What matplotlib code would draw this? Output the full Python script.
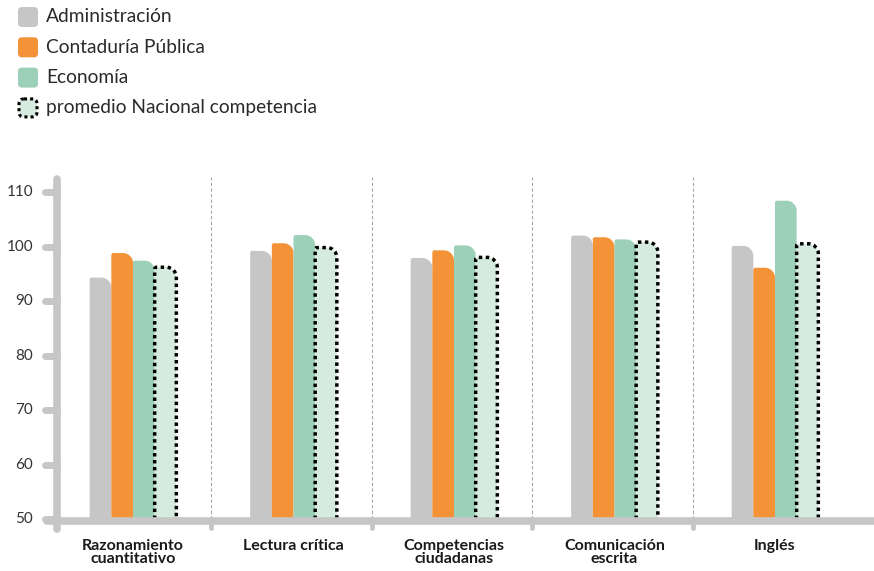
import numpy as np
import matplotlib
matplotlib.use("Agg")
import matplotlib.pyplot as plt
from matplotlib.path import Path
from matplotlib.patches import PathPatch, FancyBboxPatch

plt.rcParams['font.family'] = ['Lato', 'DejaVu Sans']

categories = ["Razonamiento\ncuantitativo", "Lectura crítica", "Competencias\nciudadanas",
              "Comunicación\nescrita", "Inglés"]
series = ["Administración", "Contaduría Pública", "Economía", "promedio Nacional competencia"]
admin = [94.3, 99.2, 97.9, 102.0, 100.1]
contaduria = [98.8, 100.6, 99.3, 101.7, 96.1]
economia = [97.4, 102.1, 100.2, 101.3, 108.4]
promedio = [96.2, 99.8, 98.0, 100.8, 100.5]
yticks = [50, 60, 70, 80, 90, 100, 110]

colors = ["#c6c6c6", "#f39237", "#9dd0b8", "#d5ebdf"]
axis_col = "#c6c6c6"
values = [admin, contaduria, economia, promedio]

W, H = 874, 571
fig = plt.figure(figsize=(W / 100, H / 100), dpi=100)

# pixel layout
px_unit = 160.5      # px per group
py_unit = 5.45       # px per score point
x_left = -76 / px_unit
y_bot = 50 - 14 / py_unit
y_top = 50 + 344 / py_unit
ax = fig.add_axes([57 / W, 38 / H, 817 / W, (533 - 175) / H])
ax.set_xlim(x_left, x_left + 817 / px_unit)
ax.set_ylim(y_bot, y_top)
ax.axis('off')

def px(n):
    return n / px_unit

def py(n):
    return n / py_unit

# separators
for s in np.arange(len(categories) - 1) + 0.5 - px(2):
    ax.plot([s, s], [50, 50 + py(342)], color="#a8a8a8", lw=0.8, ls=(0, (3, 2)), zorder=1)
    ax.plot([s, s], [50, 50 - py(9)], color=axis_col, lw=3.5, solid_capstyle='round',
            clip_on=False, zorder=2)

# axes lines
ax.plot([x_left, x_left], [y_bot + py(4), y_top - py(4)], color=axis_col, lw=5.5,
        solid_capstyle='round', clip_on=False, zorder=5)
ax.plot([x_left - px(10), x_left + px(900)], [50 - py(2), 50 - py(2)], color=axis_col, lw=5.5,
        solid_capstyle='round', clip_on=False, zorder=5)
for t in yticks:
    ax.plot([x_left - px(12), x_left], [t, t], color=axis_col, lw=5,
            solid_capstyle='round', clip_on=False, zorder=5)
    ax.text(x_left - px(24), t, str(t), ha='right', va='center', fontsize=11,
            color="#333333")

# bars with rounded top-right corner
bw = 0.135
x = np.arange(len(categories))
k = 0.5523
for j, (vals, col) in enumerate(zip(values, colors)):
    bars = ax.bar(x + (j - 1.5) * bw, np.array(vals) - 50, bw, bottom=50, alpha=0)
    for r in bars:
        x0, y0, w, h = r.get_x(), r.get_y(), r.get_width(), r.get_height()
        top = y0 + h
        rx, ry = px(10), py(10)
        sx, sy = px(2), py(2)
        verts = [(x0, y0), (x0, top - sy),
                 (x0, top - sy + k * sy), (x0 + sx - k * sx, top), (x0 + sx, top),
                 (x0 + w - rx, top),
                 (x0 + w - rx + k * rx, top), (x0 + w, top - ry + k * ry), (x0 + w, top - ry),
                 (x0 + w, y0)]
        codes = [Path.MOVETO, Path.LINETO, Path.CURVE4, Path.CURVE4, Path.CURVE4,
                 Path.LINETO, Path.CURVE4, Path.CURVE4, Path.CURVE4, Path.LINETO]
        ax.add_patch(PathPatch(Path(verts + [(x0, y0)], codes + [Path.CLOSEPOLY]),
                               facecolor=col, edgecolor='none', zorder=3))
        if j == 3:
            ax.add_patch(PathPatch(Path(verts, codes), fill=False, edgecolor='black',
                                   lw=2.5, ls=(0, (1, 1)), zorder=4))

for i, c in enumerate(categories):
    ax.text(i, 50 - py(20), c, ha='center', va='top', fontsize=11.5, fontweight='bold',
            color="#1a1a1a", linespacing=0.95, clip_on=False)

# legend drawn in pixel space
lax = fig.add_axes([0, 0, 1, 1])
lax.set_xlim(0, W)
lax.set_ylim(H, 0)
lax.axis('off')
for n, (name, col) in enumerate(zip(series, colors)):
    y0 = 7 + n * 30.3
    if n == 3:
        lax.add_patch(FancyBboxPatch((19, y0 + 1), 18, 18, boxstyle="round,pad=0,rounding_size=5",
                                     facecolor=col, edgecolor='black', lw=2.2, ls=(0, (1, 1))))
    else:
        lax.add_patch(FancyBboxPatch((18, y0), 20, 20, boxstyle="round,pad=0,rounding_size=4",
                                     facecolor=col, edgecolor='none'))
    lax.text(46, y0 + 10, name, ha='left', va='center', fontsize=13.8, color="#2a2a2a")

fig.savefig("out.png", dpi=100)
